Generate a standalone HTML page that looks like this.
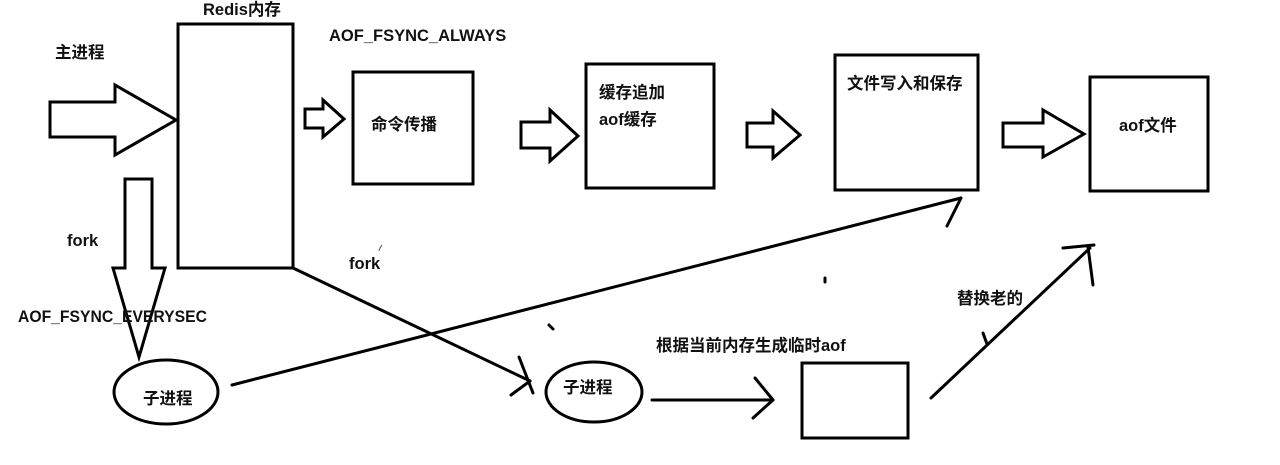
<!DOCTYPE html>
<html><head><meta charset="utf-8"><style>
html,body{margin:0;padding:0;background:#fff;}
svg{display:block;}
text{font-family:"Liberation Sans","Noto Sans CJK SC",sans-serif;font-weight:bold;font-size:16.5px;fill:#111;}
</style></head><body>
<svg width="1280" height="465" viewBox="0 0 1280 465" xmlns="http://www.w3.org/2000/svg">
<g fill="none" stroke="#000" stroke-width="3" stroke-linejoin="miter" stroke-linecap="round">
  <!-- boxes -->
  <rect x="178" y="24" width="115" height="244"/>
  <rect x="353" y="72" width="120" height="112"/>
  <rect x="586" y="64" width="128" height="124"/>
  <rect x="835" y="55" width="143" height="135"/>
  <rect x="1090" y="77" width="118" height="114"/>
  <rect x="802" y="363" width="106" height="75"/>
  <!-- block arrows -->
  <polygon points="50,102 115,102 115,85 176,120 115,155 115,137 50,137"/>
  <polygon points="125,179 152,179 152,268 165,268 139,357 113,268 125,268"/>
  <polygon points="305,109 323,109 323,100 344,119 323,137 323,128 305,128"/>
  <polygon points="521,122 550,122 550,110 578,136 550,161 550,148 521,148"/>
  <polygon points="747,123 773,123 773,111 800,135 773,158 773,147 747,147"/>
  <polygon points="1003,123 1043,123 1043,110 1084,134 1043,157 1043,147 1003,147"/>
  <!-- ellipses -->
  <ellipse cx="166" cy="392" rx="52" ry="32"/>
  <ellipse cx="594" cy="392" rx="48" ry="30"/>
  <!-- connectors -->
  <line x1="293" y1="268" x2="530" y2="381"/>
  <line x1="519" y1="357" x2="533" y2="393"/>
  <line x1="511" y1="395" x2="530" y2="381"/>
  <line x1="232" y1="385" x2="961" y2="198"/>
  <line x1="961" y1="198" x2="947" y2="226"/>
  <line x1="652" y1="400" x2="773" y2="400"/>
  <line x1="755" y1="378" x2="773" y2="400"/>
  <line x1="773" y1="400" x2="753" y2="418"/>
  <line x1="931" y1="398" x2="1090" y2="248"/>
  <line x1="1063" y1="248" x2="1094" y2="245"/>
  <line x1="1088" y1="247" x2="1093" y2="285"/>
  <line x1="983" y1="333" x2="987" y2="344"/>
  <line x1="549" y1="325" x2="553" y2="329"/>
  <line x1="825" y1="278" x2="825" y2="282"/>
</g>
<path d="M379 251 Q380 247 382 245" fill="none" stroke="#555" stroke-width="1"/>
<text x="55" y="58">主进程</text>
<text x="203" y="15">Redis内存</text>
<text x="329" y="41">AOF_FSYNC_ALWAYS</text>
<text x="371" y="130">命令传播</text>
<text x="599" y="98">缓存追加</text>
<text x="599" y="125">aof缓存</text>
<text x="847" y="89">文件写入和保存</text>
<text x="1119" y="131">aof文件</text>
<text x="67" y="246">fork</text>
<text x="349" y="269">fork</text>
<text x="18" y="322" textLength="189" lengthAdjust="spacingAndGlyphs">AOF_FSYNC_EVERYSEC</text>
<text x="143" y="404">子进程</text>
<text x="563" y="393">子进程</text>
<text x="656" y="351">根据当前内存生成临时aof</text>
<text x="957" y="304">替换老的</text>
</svg>
</body></html>
